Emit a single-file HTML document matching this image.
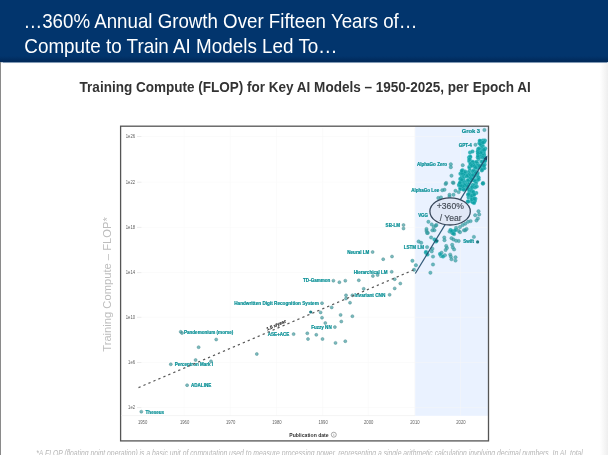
<!DOCTYPE html>
<html><head><meta charset="utf-8"><title>360% Annual Growth</title>
<style>
html,body{margin:0;padding:0;}
body{width:608px;height:455px;overflow:hidden;background:#fff;position:relative;font-family:"Liberation Sans",sans-serif;}
.hdr{position:absolute;left:0;top:0;width:608px;height:62px;background:linear-gradient(to bottom,#02356d 0,#02356d 56px,#012a5b 61px,#012a5b 62px);box-shadow:0 0.5px 1px 0 rgba(2,51,106,.5);}
.hdr div{position:absolute;left:23.5px;color:#fff;font-size:18.7px;line-height:22px;white-space:nowrap;transform:scaleY(1.09);transform-origin:0 50%;}
.el{display:inline-block;transform-origin:0 50%;}
.sub{position:absolute;left:79.6px;top:78.6px;font-weight:bold;font-size:13.53px;line-height:18px;color:#333;white-space:nowrap;transform:scaleY(1.07);}
.foot{position:absolute;left:36.2px;top:446.7px;font-style:italic;font-size:6.8px;line-height:9px;color:#b6b6b6;white-space:nowrap;transform:scaleY(1.25);transform-origin:0 0;}
.ledge{position:absolute;left:0;top:62px;width:1px;height:393px;background:#8a8a8a;}
.redge{position:absolute;right:0;top:63px;width:8px;height:392px;background:linear-gradient(90deg,rgba(238,238,238,0),#eeeeee);}
svg{position:absolute;left:0;top:0;filter:blur(0.3px);}
.hdr div,.sub,.foot{filter:blur(0.25px);}
.lb{font-family:"Liberation Sans",sans-serif;font-weight:bold;font-size:4.55px;fill:#0a9096;stroke:#0a9096;stroke-width:0.2px;}
.tk{font-family:"Liberation Sans",sans-serif;font-size:4.2px;fill:#5e5e5e;}
</style></head><body>
<div class="hdr"><div style="top:9.8px;font-size:18.72px">…360% Annual Growth Over Fifteen Years of<span class="el" style="transform:scaleX(1.0)">…</span></div><div style="top:34.7px;left:24.3px;font-size:18.85px">Compute to Train AI Models Led To<span class="el" style="transform:scaleX(1.04)">…</span></div></div>
<div class="ledge"></div><div class="redge"></div>
<div class="sub">Training Compute (FLOP) for Key AI Models – 1950-2025, per Epoch AI</div>
<svg width="608" height="455" viewBox="0 0 608 455">
<rect x="415.2" y="126.5" width="73" height="289.3" fill="#eaf2ff"/>
<line x1="184.2" x2="184.2" y1="128" y2="415.5" stroke="#f6f6f6" stroke-width="0.5"/>
<line x1="230.3" x2="230.3" y1="128" y2="415.5" stroke="#f6f6f6" stroke-width="0.5"/>
<line x1="276.5" x2="276.5" y1="128" y2="415.5" stroke="#f6f6f6" stroke-width="0.5"/>
<line x1="322.7" x2="322.7" y1="128" y2="415.5" stroke="#f6f6f6" stroke-width="0.5"/>
<line x1="368.3" x2="368.3" y1="128" y2="415.5" stroke="#f6f6f6" stroke-width="0.5"/>
<line x1="414.5" x2="414.5" y1="128" y2="415.5" stroke="#f6f6f6" stroke-width="0.5"/>
<line x1="460.5" x2="460.5" y1="128" y2="415.5" stroke="#f6f6f6" stroke-width="0.5"/>
<text transform="translate(135.1,138.1) scale(1,1.35)" text-anchor="end" class="tk">1e26</text><line x1="137" x2="141.5" y1="136.5" y2="136.5" stroke="#ddd" stroke-width="0.6"/><line x1="141.5" x2="487" y1="136.5" y2="136.5" stroke="#f6f6f6" stroke-width="0.5"/>
<text transform="translate(135.1,183.8) scale(1,1.35)" text-anchor="end" class="tk">1e22</text><line x1="137" x2="141.5" y1="182.20000000000002" y2="182.20000000000002" stroke="#ddd" stroke-width="0.6"/><line x1="141.5" x2="487" y1="182.20000000000002" y2="182.20000000000002" stroke="#f6f6f6" stroke-width="0.5"/>
<text transform="translate(135.1,229.0) scale(1,1.35)" text-anchor="end" class="tk">1e18</text><line x1="137" x2="141.5" y1="227.4" y2="227.4" stroke="#ddd" stroke-width="0.6"/><line x1="141.5" x2="487" y1="227.4" y2="227.4" stroke="#f6f6f6" stroke-width="0.5"/>
<text transform="translate(135.1,274.2) scale(1,1.35)" text-anchor="end" class="tk">1e14</text><line x1="137" x2="141.5" y1="272.59999999999997" y2="272.59999999999997" stroke="#ddd" stroke-width="0.6"/><line x1="141.5" x2="487" y1="272.59999999999997" y2="272.59999999999997" stroke="#f6f6f6" stroke-width="0.5"/>
<text transform="translate(135.1,318.9) scale(1,1.35)" text-anchor="end" class="tk">1e10</text><line x1="137" x2="141.5" y1="317.29999999999995" y2="317.29999999999995" stroke="#ddd" stroke-width="0.6"/><line x1="141.5" x2="487" y1="317.29999999999995" y2="317.29999999999995" stroke="#f6f6f6" stroke-width="0.5"/>
<text transform="translate(135.1,364.1) scale(1,1.35)" text-anchor="end" class="tk">1e6</text><line x1="137" x2="141.5" y1="362.5" y2="362.5" stroke="#ddd" stroke-width="0.6"/><line x1="141.5" x2="487" y1="362.5" y2="362.5" stroke="#f6f6f6" stroke-width="0.5"/>
<text transform="translate(135.1,409.2) scale(1,1.35)" text-anchor="end" class="tk">1e2</text><line x1="137" x2="141.5" y1="407.59999999999997" y2="407.59999999999997" stroke="#ddd" stroke-width="0.6"/><line x1="141.5" x2="487" y1="407.59999999999997" y2="407.59999999999997" stroke="#f6f6f6" stroke-width="0.5"/>
<rect x="120.6" y="126.2" width="367.9" height="314.7" fill="none" stroke="#555" stroke-width="1.3"/>
<text transform="translate(142.6,424.2) scale(1,1.35)" text-anchor="middle" class="tk">1950</text>
<text transform="translate(184.6,424.2) scale(1,1.35)" text-anchor="middle" class="tk">1960</text>
<text transform="translate(230.70000000000002,424.2) scale(1,1.35)" text-anchor="middle" class="tk">1970</text>
<text transform="translate(276.9,424.2) scale(1,1.35)" text-anchor="middle" class="tk">1980</text>
<text transform="translate(323.09999999999997,424.2) scale(1,1.35)" text-anchor="middle" class="tk">1990</text>
<text transform="translate(368.7,424.2) scale(1,1.35)" text-anchor="middle" class="tk">2000</text>
<text transform="translate(414.9,424.2) scale(1,1.35)" text-anchor="middle" class="tk">2010</text>
<text transform="translate(460.9,424.2) scale(1,1.35)" text-anchor="middle" class="tk">2020</text>
<line x1="121" x2="415.2" y1="415.6" y2="415.6" stroke="#ececec" stroke-width="0.6"/>
<text x="289.3" y="436.7" style="font-family:'Liberation Sans',sans-serif;font-weight:bold;font-size:5.1px;fill:#333">Publication date</text>
<circle cx="333.8" cy="434.7" r="2.5" fill="none" stroke="#555" stroke-width="0.5"/>
<text x="333.8" y="436.2" text-anchor="middle" style="font-family:'Liberation Sans',sans-serif;font-size:3.8px;fill:#555">i</text>
<text transform="translate(110.6,284.5) rotate(-90)" text-anchor="middle" style="font-family:'Liberation Sans',sans-serif;font-size:11.2px;fill:#bdbdbd">Training Compute – FLOP*</text>
<g>
<g fill="#3d999e" fill-opacity="0.68" stroke="#4a8c90" stroke-width="0.55" stroke-opacity="0.85"><circle cx="141.3" cy="411.7" r="1.5"/><circle cx="187.1" cy="385.2" r="1.5"/><circle cx="170.8" cy="364.3" r="1.5"/><circle cx="195.6" cy="360.0" r="1.5"/><circle cx="211.0" cy="361.3" r="1.5"/><circle cx="180.7" cy="331.8" r="1.5"/><circle cx="182.0" cy="333.0" r="1.5"/><circle cx="198.6" cy="347.2" r="1.5"/><circle cx="216.2" cy="339.5" r="1.5"/><circle cx="256.8" cy="354.0" r="1.5"/><circle cx="293.6" cy="334.1" r="1.5"/><circle cx="307.3" cy="333.3" r="1.5"/><circle cx="308.0" cy="339.0" r="1.5"/><circle cx="316.3" cy="334.8" r="1.5"/><circle cx="322.5" cy="339.0" r="1.5"/><circle cx="335.5" cy="342.9" r="1.5"/><circle cx="345.3" cy="341.2" r="1.5"/><circle cx="334.9" cy="327.1" r="1.5"/><circle cx="322.0" cy="303.2" r="1.5"/><circle cx="320.6" cy="312.4" r="1.5"/><circle cx="322.0" cy="317.7" r="1.5"/><circle cx="325.3" cy="323.0" r="1.5"/><circle cx="331.7" cy="307.4" r="1.5"/><circle cx="340.6" cy="314.9" r="1.5"/><circle cx="352.4" cy="316.2" r="1.5"/><circle cx="341.3" cy="321.5" r="1.5"/><circle cx="346.0" cy="295.3" r="1.5"/><circle cx="346.0" cy="298.5" r="1.5"/><circle cx="352.4" cy="295.3" r="1.5"/><circle cx="350.0" cy="302.7" r="1.5"/><circle cx="333.4" cy="280.7" r="1.5"/><circle cx="339.4" cy="282.2" r="1.5"/><circle cx="345.3" cy="280.7" r="1.5"/><circle cx="358.8" cy="280.3" r="1.5"/><circle cx="363.7" cy="288.8" r="1.5"/><circle cx="372.9" cy="276.0" r="1.5"/><circle cx="377.6" cy="275.0" r="1.5"/><circle cx="391.7" cy="271.8" r="1.5"/><circle cx="394.7" cy="279.2" r="1.5"/><circle cx="400.3" cy="283.5" r="1.5"/><circle cx="394.7" cy="288.4" r="1.5"/><circle cx="389.6" cy="294.8" r="1.5"/><circle cx="372.6" cy="252.0" r="1.5"/><circle cx="383.2" cy="259.2" r="1.5"/><circle cx="392.0" cy="256.5" r="1.5"/><circle cx="403.5" cy="225.0" r="1.5"/><circle cx="403.5" cy="228.5" r="1.5"/></g>
<g fill="#2f9ea3" fill-opacity="0.7" stroke="#3a8f94" stroke-width="0.5" stroke-opacity="0.7"><circle cx="426.5" cy="230.9" r="1.7"/><circle cx="427.8" cy="232.9" r="1.7"/><circle cx="434.4" cy="230.3" r="1.7"/><circle cx="435.7" cy="225.7" r="1.7"/><circle cx="431.1" cy="237.5" r="1.7"/><circle cx="444.3" cy="237.5" r="1.7"/><circle cx="444.5" cy="240.2" r="1.7"/><circle cx="451.5" cy="231.6" r="1.7"/><circle cx="452.8" cy="232.9" r="1.7"/><circle cx="454.1" cy="234.2" r="1.7"/><circle cx="456.1" cy="229.6" r="1.7"/><circle cx="458.7" cy="230.9" r="1.7"/><circle cx="460.0" cy="232.2" r="1.7"/><circle cx="465.3" cy="230.3" r="1.7"/><circle cx="451.5" cy="238.2" r="1.7"/><circle cx="453.5" cy="239.5" r="1.7"/><circle cx="456.1" cy="240.8" r="1.7"/><circle cx="458.7" cy="241.0" r="1.7"/><circle cx="473.9" cy="236.9" r="1.7"/><circle cx="418.6" cy="241.5" r="1.7"/><circle cx="421.2" cy="242.8" r="1.7"/><circle cx="427.1" cy="247.1" r="1.7"/><circle cx="432.4" cy="248.7" r="1.7"/><circle cx="431.7" cy="251.4" r="1.7"/><circle cx="433.0" cy="256.6" r="1.7"/><circle cx="425.8" cy="252.7" r="1.7"/><circle cx="446.2" cy="246.0" r="1.7"/><circle cx="446.9" cy="248.0" r="1.7"/><circle cx="445.6" cy="250.0" r="1.7"/><circle cx="452.2" cy="244.8" r="1.7"/><circle cx="452.8" cy="247.4" r="1.7"/><circle cx="454.1" cy="249.4" r="1.7"/><circle cx="441.6" cy="252.7" r="1.7"/><circle cx="441.0" cy="256.0" r="1.7"/><circle cx="444.9" cy="255.3" r="1.7"/><circle cx="450.2" cy="254.6" r="1.7"/><circle cx="450.8" cy="256.6" r="1.7"/><circle cx="451.5" cy="259.3" r="1.7"/><circle cx="455.5" cy="257.3" r="1.7"/><circle cx="455.5" cy="260.6" r="1.7"/><circle cx="412.4" cy="260.8" r="1.7"/><circle cx="415.9" cy="265.2" r="1.7"/><circle cx="414.0" cy="269.8" r="1.7"/><circle cx="433.0" cy="264.5" r="1.7"/><circle cx="430.4" cy="272.7" r="1.7"/><circle cx="442.3" cy="190.2" r="1.7"/><circle cx="444.5" cy="189.8" r="1.7"/><circle cx="445.6" cy="184.0" r="1.7"/><circle cx="453.5" cy="182.9" r="1.7"/><circle cx="451.5" cy="175.7" r="1.7"/><circle cx="449.5" cy="194.8" r="1.7"/><circle cx="455.5" cy="190.8" r="1.7"/><circle cx="458.7" cy="192.1" r="1.7"/><circle cx="483.1" cy="183.6" r="1.7"/><circle cx="478.5" cy="211.2" r="1.7"/><circle cx="479.2" cy="214.5" r="1.7"/><circle cx="475.2" cy="215.2" r="1.7"/><circle cx="477.9" cy="218.5" r="1.7"/><circle cx="476.5" cy="220.5" r="1.7"/><circle cx="468.0" cy="221.8" r="1.7"/><circle cx="470.6" cy="221.1" r="1.7"/><circle cx="462.7" cy="225.0" r="1.7"/><circle cx="465.3" cy="223.7" r="1.7"/><circle cx="460.0" cy="227.0" r="1.7"/><circle cx="456.1" cy="227.7" r="1.7"/><circle cx="449.5" cy="231.6" r="1.7"/><circle cx="452.2" cy="233.0" r="1.7"/><circle cx="464.0" cy="230.3" r="1.7"/><circle cx="466.6" cy="229.0" r="1.7"/><circle cx="428.4" cy="221.8" r="1.7"/><circle cx="431.7" cy="224.4" r="1.7"/><circle cx="436.4" cy="225.0" r="1.7"/><circle cx="433.7" cy="227.0" r="1.7"/><circle cx="426.5" cy="229.0" r="1.7"/><circle cx="427.1" cy="233.0" r="1.7"/><circle cx="432.4" cy="230.3" r="1.7"/><circle cx="438.3" cy="198.0" r="1.7"/><circle cx="441.0" cy="197.4" r="1.7"/><circle cx="449.5" cy="196.7" r="1.7"/><circle cx="453.5" cy="194.8" r="1.7"/><circle cx="484.4" cy="130.0" r="1.7"/><circle cx="475.5" cy="144.8" r="1.7"/><circle cx="450.8" cy="164.3" r="1.7"/><circle cx="450.8" cy="167.2" r="1.7"/><circle cx="462.7" cy="165.2" r="1.7"/><circle cx="446.2" cy="183.0" r="1.7"/><circle cx="452.8" cy="182.6" r="1.7"/><circle cx="481.8" cy="170.5" r="1.7"/><circle cx="483.1" cy="183.0" r="1.7"/></g>
<g fill="#0d9fa4" fill-opacity="0.8" stroke="#86eaec" stroke-width="0.4" stroke-opacity="0.45"><circle cx="481.1" cy="141.1" r="2.0"/><circle cx="483.0" cy="140.6" r="2.0"/><circle cx="482.4" cy="142.5" r="2.0"/><circle cx="479.6" cy="143.3" r="2.0"/><circle cx="479.5" cy="142.9" r="2.0"/><circle cx="479.7" cy="140.8" r="2.0"/><circle cx="481.7" cy="145.3" r="2.0"/><circle cx="480.0" cy="141.6" r="2.0"/><circle cx="482.9" cy="146.1" r="2.0"/><circle cx="482.6" cy="142.7" r="2.0"/><circle cx="484.9" cy="140.5" r="2.0"/><circle cx="484.2" cy="142.0" r="2.0"/><circle cx="480.1" cy="140.9" r="2.0"/><circle cx="481.1" cy="145.3" r="2.0"/><circle cx="480.3" cy="143.8" r="2.0"/><circle cx="482.9" cy="142.5" r="2.0"/><circle cx="481.9" cy="148.1" r="2.0"/><circle cx="478.1" cy="149.2" r="2.0"/><circle cx="482.9" cy="150.9" r="2.0"/><circle cx="480.1" cy="152.2" r="2.0"/><circle cx="481.1" cy="149.9" r="2.0"/><circle cx="483.8" cy="153.1" r="2.0"/><circle cx="479.5" cy="152.1" r="2.0"/><circle cx="481.7" cy="154.4" r="2.0"/><circle cx="483.3" cy="149.8" r="2.0"/><circle cx="485.2" cy="148.5" r="2.0"/><circle cx="480.9" cy="153.5" r="2.0"/><circle cx="478.8" cy="151.4" r="2.0"/><circle cx="477.9" cy="152.8" r="2.0"/><circle cx="483.6" cy="152.1" r="2.0"/><circle cx="484.4" cy="150.0" r="2.0"/><circle cx="483.0" cy="152.2" r="2.0"/><circle cx="482.1" cy="151.2" r="2.0"/><circle cx="484.2" cy="155.0" r="2.0"/><circle cx="481.3" cy="152.8" r="2.0"/><circle cx="478.1" cy="153.1" r="2.0"/><circle cx="482.6" cy="155.3" r="2.0"/><circle cx="484.0" cy="149.8" r="2.0"/><circle cx="480.6" cy="152.8" r="2.0"/><circle cx="477.8" cy="151.2" r="2.0"/><circle cx="478.9" cy="148.5" r="2.0"/><circle cx="478.1" cy="153.6" r="2.0"/><circle cx="475.4" cy="166.8" r="2.0"/><circle cx="470.3" cy="161.3" r="2.0"/><circle cx="478.0" cy="166.9" r="2.0"/><circle cx="482.4" cy="166.7" r="2.0"/><circle cx="474.9" cy="166.9" r="2.0"/><circle cx="484.7" cy="157.5" r="2.0"/><circle cx="472.8" cy="161.8" r="2.0"/><circle cx="478.7" cy="159.0" r="2.0"/><circle cx="469.1" cy="161.0" r="2.0"/><circle cx="475.1" cy="162.8" r="2.0"/><circle cx="484.6" cy="164.4" r="2.0"/><circle cx="477.5" cy="163.5" r="2.0"/><circle cx="480.1" cy="156.3" r="2.0"/><circle cx="483.8" cy="165.6" r="2.0"/><circle cx="483.3" cy="165.8" r="2.0"/><circle cx="470.7" cy="163.7" r="2.0"/><circle cx="470.0" cy="156.5" r="2.0"/><circle cx="469.0" cy="157.5" r="2.0"/><circle cx="469.4" cy="166.8" r="2.0"/><circle cx="479.1" cy="157.5" r="2.0"/><circle cx="482.9" cy="168.3" r="2.0"/><circle cx="476.6" cy="161.8" r="2.0"/><circle cx="470.4" cy="156.9" r="2.0"/><circle cx="482.6" cy="157.7" r="2.0"/><circle cx="469.4" cy="167.8" r="2.0"/><circle cx="477.7" cy="157.5" r="2.0"/><circle cx="477.9" cy="155.9" r="2.0"/><circle cx="477.7" cy="168.1" r="2.0"/><circle cx="483.2" cy="164.5" r="2.0"/><circle cx="471.7" cy="165.5" r="2.0"/><circle cx="477.7" cy="165.6" r="2.0"/><circle cx="482.3" cy="168.2" r="2.0"/><circle cx="483.0" cy="165.9" r="2.0"/><circle cx="482.4" cy="165.1" r="2.0"/><circle cx="472.7" cy="162.2" r="2.0"/><circle cx="469.5" cy="159.2" r="2.0"/><circle cx="473.3" cy="164.5" r="2.0"/><circle cx="484.7" cy="161.3" r="2.0"/><circle cx="484.4" cy="168.2" r="2.0"/><circle cx="484.7" cy="160.3" r="2.0"/><circle cx="479.2" cy="167.1" r="2.0"/><circle cx="482.8" cy="161.7" r="2.0"/><circle cx="479.7" cy="165.8" r="2.0"/><circle cx="470.4" cy="164.1" r="2.0"/><circle cx="483.9" cy="165.6" r="2.0"/><circle cx="481.3" cy="161.7" r="2.0"/><circle cx="471.9" cy="165.7" r="2.0"/><circle cx="474.5" cy="165.9" r="2.0"/><circle cx="484.9" cy="160.7" r="2.0"/><circle cx="475.6" cy="167.7" r="2.0"/><circle cx="473.7" cy="172.0" r="2.0"/><circle cx="462.5" cy="171.8" r="2.0"/><circle cx="477.1" cy="179.2" r="2.0"/><circle cx="462.8" cy="179.4" r="2.0"/><circle cx="478.5" cy="177.5" r="2.0"/><circle cx="466.7" cy="176.3" r="2.0"/><circle cx="462.6" cy="170.3" r="2.0"/><circle cx="478.4" cy="177.4" r="2.0"/><circle cx="470.0" cy="180.6" r="2.0"/><circle cx="468.3" cy="180.0" r="2.0"/><circle cx="475.6" cy="172.5" r="2.0"/><circle cx="464.8" cy="173.4" r="2.0"/><circle cx="464.6" cy="176.7" r="2.0"/><circle cx="465.0" cy="174.8" r="2.0"/><circle cx="462.6" cy="180.4" r="2.0"/><circle cx="466.8" cy="175.3" r="2.0"/><circle cx="471.1" cy="180.3" r="2.0"/><circle cx="468.0" cy="180.5" r="2.0"/><circle cx="469.5" cy="176.1" r="2.0"/><circle cx="469.9" cy="170.3" r="2.0"/><circle cx="468.4" cy="172.2" r="2.0"/><circle cx="460.2" cy="179.1" r="2.0"/><circle cx="463.3" cy="175.5" r="2.0"/><circle cx="473.7" cy="176.4" r="2.0"/><circle cx="466.2" cy="176.0" r="2.0"/><circle cx="470.5" cy="179.0" r="2.0"/><circle cx="462.1" cy="176.4" r="2.0"/><circle cx="464.8" cy="173.2" r="2.0"/><circle cx="474.6" cy="175.8" r="2.0"/><circle cx="470.7" cy="178.7" r="2.0"/><circle cx="477.3" cy="175.1" r="2.0"/><circle cx="471.6" cy="175.8" r="2.0"/><circle cx="469.7" cy="177.9" r="2.0"/><circle cx="468.6" cy="176.1" r="2.0"/><circle cx="469.1" cy="180.7" r="2.0"/><circle cx="473.2" cy="180.0" r="2.0"/><circle cx="477.8" cy="173.0" r="2.0"/><circle cx="470.6" cy="180.8" r="2.0"/><circle cx="475.9" cy="171.6" r="2.0"/><circle cx="462.4" cy="175.1" r="2.0"/><circle cx="461.5" cy="172.8" r="2.0"/><circle cx="461.5" cy="177.7" r="2.0"/><circle cx="474.8" cy="180.2" r="2.0"/><circle cx="463.0" cy="178.2" r="2.0"/><circle cx="472.5" cy="171.7" r="2.0"/><circle cx="476.7" cy="181.0" r="2.0"/><circle cx="464.2" cy="180.9" r="2.0"/><circle cx="467.6" cy="175.6" r="2.0"/><circle cx="478.7" cy="179.5" r="2.0"/><circle cx="463.1" cy="175.0" r="2.0"/><circle cx="469.8" cy="173.9" r="2.0"/><circle cx="463.8" cy="173.7" r="2.0"/><circle cx="473.7" cy="170.3" r="2.0"/><circle cx="470.5" cy="175.1" r="2.0"/><circle cx="460.4" cy="173.8" r="2.0"/><circle cx="471.8" cy="175.9" r="2.0"/><circle cx="461.3" cy="181.2" r="2.0"/><circle cx="474.9" cy="181.1" r="2.0"/><circle cx="462.1" cy="173.1" r="2.0"/><circle cx="460.8" cy="178.9" r="2.0"/><circle cx="465.2" cy="171.6" r="2.0"/><circle cx="468.0" cy="180.4" r="2.0"/><circle cx="475.5" cy="173.0" r="2.0"/><circle cx="462.9" cy="180.5" r="2.0"/><circle cx="470.8" cy="178.0" r="2.0"/><circle cx="461.8" cy="170.8" r="2.0"/><circle cx="473.0" cy="174.9" r="2.0"/><circle cx="461.5" cy="180.7" r="2.0"/><circle cx="472.0" cy="179.2" r="2.0"/><circle cx="461.7" cy="179.8" r="2.0"/><circle cx="460.3" cy="188.9" r="2.0"/><circle cx="467.3" cy="185.1" r="2.0"/><circle cx="469.1" cy="189.4" r="2.0"/><circle cx="463.9" cy="183.5" r="2.0"/><circle cx="468.6" cy="184.3" r="2.0"/><circle cx="461.1" cy="183.8" r="2.0"/><circle cx="460.0" cy="184.1" r="2.0"/><circle cx="464.7" cy="184.8" r="2.0"/><circle cx="472.8" cy="184.7" r="2.0"/><circle cx="468.2" cy="183.9" r="2.0"/><circle cx="465.4" cy="182.7" r="2.0"/><circle cx="463.6" cy="182.7" r="2.0"/><circle cx="472.4" cy="186.6" r="2.0"/><circle cx="462.5" cy="186.1" r="2.0"/><circle cx="476.0" cy="183.4" r="2.0"/><circle cx="473.9" cy="185.8" r="2.0"/><circle cx="468.1" cy="188.7" r="2.0"/><circle cx="466.2" cy="186.3" r="2.0"/><circle cx="471.5" cy="189.8" r="2.0"/><circle cx="465.3" cy="188.7" r="2.0"/><circle cx="471.9" cy="187.2" r="2.0"/><circle cx="466.4" cy="185.1" r="2.0"/><circle cx="460.1" cy="183.5" r="2.0"/><circle cx="460.4" cy="188.0" r="2.0"/><circle cx="463.7" cy="183.8" r="2.0"/><circle cx="460.6" cy="188.7" r="2.0"/><circle cx="474.9" cy="187.5" r="2.0"/><circle cx="464.2" cy="184.4" r="2.0"/><circle cx="464.4" cy="186.0" r="2.0"/><circle cx="462.0" cy="185.9" r="2.0"/><circle cx="463.9" cy="189.6" r="2.0"/><circle cx="476.7" cy="186.6" r="2.0"/><circle cx="463.5" cy="189.6" r="2.0"/><circle cx="464.7" cy="185.2" r="2.0"/><circle cx="459.1" cy="185.4" r="2.0"/><circle cx="467.7" cy="186.3" r="2.0"/><circle cx="462.7" cy="186.3" r="2.0"/><circle cx="459.2" cy="184.5" r="2.0"/><circle cx="460.7" cy="185.5" r="2.0"/><circle cx="459.9" cy="182.8" r="2.0"/><circle cx="470.1" cy="194.0" r="2.0"/><circle cx="472.6" cy="197.6" r="2.0"/><circle cx="474.1" cy="199.2" r="2.0"/><circle cx="473.8" cy="201.9" r="2.0"/><circle cx="470.8" cy="195.1" r="2.0"/><circle cx="476.3" cy="192.9" r="2.0"/><circle cx="473.9" cy="199.0" r="2.0"/><circle cx="467.7" cy="201.4" r="2.0"/><circle cx="475.4" cy="198.8" r="2.0"/><circle cx="474.0" cy="201.1" r="2.0"/><circle cx="468.6" cy="197.5" r="2.0"/><circle cx="471.9" cy="201.4" r="2.0"/><circle cx="474.6" cy="201.3" r="2.0"/><circle cx="472.6" cy="202.1" r="2.0"/><circle cx="473.5" cy="199.6" r="2.0"/><circle cx="469.4" cy="191.5" r="2.0"/><circle cx="468.5" cy="195.5" r="2.0"/><circle cx="468.3" cy="201.4" r="2.0"/><circle cx="472.4" cy="198.8" r="2.0"/><circle cx="473.0" cy="199.5" r="2.0"/><circle cx="471.8" cy="191.1" r="2.0"/><circle cx="474.6" cy="200.3" r="2.0"/><circle cx="471.9" cy="197.7" r="2.0"/><circle cx="473.3" cy="191.9" r="2.0"/><circle cx="474.0" cy="194.2" r="2.0"/><circle cx="468.0" cy="194.4" r="2.0"/><circle cx="473.9" cy="193.6" r="2.0"/><circle cx="474.0" cy="203.1" r="2.0"/><circle cx="471.8" cy="195.8" r="2.0"/><circle cx="471.7" cy="199.5" r="2.0"/><circle cx="474.3" cy="198.7" r="2.0"/><circle cx="473.1" cy="192.1" r="2.0"/><circle cx="468.6" cy="194.2" r="2.0"/><circle cx="474.1" cy="194.8" r="2.0"/><circle cx="482.0" cy="170.0" r="2.0"/><circle cx="482.8" cy="183.4" r="2.0"/><circle cx="470.0" cy="152.5" r="2.0"/><circle cx="472.5" cy="151.5" r="2.0"/><circle cx="450.5" cy="230.0" r="2.0"/><circle cx="452.0" cy="231.0" r="2.0"/><circle cx="453.5" cy="233.5" r="2.0"/><circle cx="455.0" cy="230.5" r="2.0"/><circle cx="434.5" cy="239.5" r="2.0"/><circle cx="436.0" cy="241.5" r="2.0"/><circle cx="426.0" cy="252.0" r="2.0"/><circle cx="427.5" cy="254.5" r="2.0"/><circle cx="440.0" cy="254.0" r="2.0"/><circle cx="443.0" cy="256.5" r="2.0"/></g>
<g fill="#0b6f78" fill-opacity="0.9"><circle cx="310.7" cy="312.0" r="1.6"/><circle cx="477.6" cy="241.9" r="1.6"/><circle cx="437.0" cy="240.8" r="1.6"/></g>
</g>
<text x="145.6" y="414.20000000000005" text-anchor="start" class="lb">Theseus</text>
<text x="191" y="386.8" text-anchor="start" class="lb">ADALINE</text>
<text x="174.7" y="365.90000000000003" text-anchor="start" class="lb">Perceptron Mark I</text>
<text x="184" y="333.70000000000005" text-anchor="start" class="lb">Pandemonium (morse)</text>
<text x="289.4" y="336.3" text-anchor="end" class="lb">ASE+ACE</text>
<text x="331.7" y="329.0" text-anchor="end" class="lb">Fuzzy NN</text>
<text x="318.8" y="305.3" text-anchor="end" class="lb" style="font-size:4.66px">Handwritten Digit Recognition System</text>
<text x="330.4" y="282.0" text-anchor="end" class="lb">TD-Gammon</text>
<text x="385.4" y="297.40000000000003" text-anchor="end" class="lb" style="font-size:4.7px">Invariant CNN</text>
<text x="387.6" y="274.1" text-anchor="end" class="lb">Hierarchical LM</text>
<text x="369.3" y="253.7" text-anchor="end" class="lb">Neural LM</text>
<text x="424" y="249.0" text-anchor="end" class="lb">LSTM LM</text>
<text x="400" y="227.4" text-anchor="end" class="lb">SB-LM</text>
<text x="428" y="216.9" text-anchor="end" class="lb" style="font-size:4.45px">VGG</text>
<text x="439.2" y="192.0" text-anchor="end" class="lb">AlphaGo Lee</text>
<text x="447" y="166.4" text-anchor="end" class="lb">AlphaGo Zero</text>
<text x="471.9" y="146.7" text-anchor="end" class="lb">GPT-4</text>
<text x="474" y="243.2" text-anchor="end" class="lb">Swift</text>
<text x="480" y="132.6" text-anchor="end" class="lb" style="font-size:5.8px">Grok 3</text>
<line x1="138.5" y1="387.6" x2="415" y2="269.3" stroke="#585858" stroke-width="1.2" stroke-dasharray="2.3 3.1"/>
<text transform="translate(276.8,326.4) rotate(-23)" text-anchor="middle" style="font-family:'Liberation Sans',sans-serif;font-weight:bold;font-size:4.5px;fill:#222;stroke:#222;stroke-width:0.15px">1.5 x/year</text>
<line x1="415.3" y1="273.5" x2="486" y2="157.6" stroke="#1d4868" stroke-width="1.2" stroke-opacity="0.9"/>
<polygon points="487.4,155.4 486.9,160.6 483.6,158.5" fill="#1d4868"/>
<ellipse cx="450.1" cy="211.4" rx="20.2" ry="13.6" fill="#e1e8f6" stroke="#38475a" stroke-width="1.3"/>
<text transform="translate(450.3,209.3) scale(1,1.13)" text-anchor="middle" style="font-family:'Liberation Sans',sans-serif;font-size:8.6px;fill:#434a55;stroke:#434a55;stroke-width:0.15">+360%</text>
<text transform="translate(450.6,221.1) scale(1,1.13)" text-anchor="middle" style="font-family:'Liberation Sans',sans-serif;font-size:8.6px;fill:#434a55;stroke:#434a55;stroke-width:0.15">/ Year</text>
</svg>
<div class="foot">*A FLOP (floating point operation) is a basic unit of computation used to measure processing power, representing a single arithmetic calculation involving decimal numbers. In AI, total</div>
</body></html>
